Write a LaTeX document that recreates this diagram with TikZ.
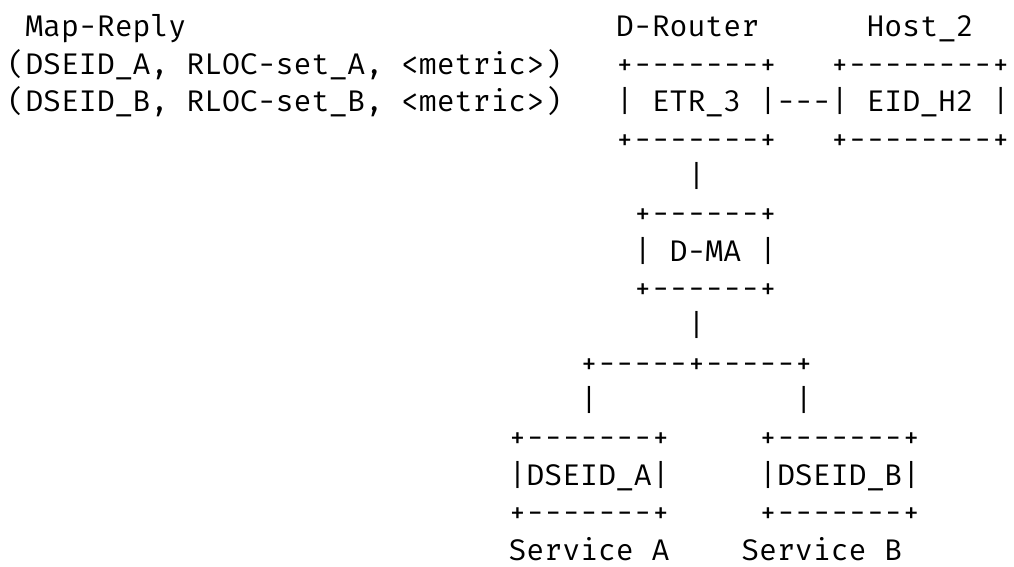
\documentclass[tikz,border=0pt]{standalone}
\usepackage{fontspec}
\setmonofont{Fira Mono}
\usepackage{tikz}

\tikzset{
  txt/.style={anchor=base west, inner sep=0pt},
}

\begin{document}
\begin{tikzpicture}[x=13.425pt, y=-28.02pt, font=\ttfamily\fontsize{22.37}{28}\selectfont]
\useasboundingbox (-0.397,0.01) rectangle (56.25,15.16);
% header and mapping entries
\node[txt] (mapreply) at (1,1) {Map-Reply};
\node[txt] (drouter) at (34,1) {D-Router};
\node[txt] (host) at (48,1) {Host\_2};
\node[txt] (entrya) at (0,2) {(DSEID\_A, RLOC-set\_A, <metric>)};
\node[txt] (entryb) at (0,3) {(DSEID\_B, RLOC-set\_B, <metric>)};
% ETR_3 and EID_H2
\node[txt] (etrtop) at (34,2) {+-------+};
\node[txt] (etr) at (34,3) {| ETR\_3 |};
\node[txt] (etrbot) at (34,4) {+-------+};
\node[txt] (etrlink) at (43,3) {---};
\node[txt] (eidtop) at (46,2) {+--------+};
\node[txt] (eid) at (46,3) {| EID\_H2 |};
\node[txt] (eidbot) at (46,4) {+--------+};
% D-MA
\node[txt] (etrdown) at (38,5) {|};
\node[txt] (dmatop) at (35,6) {+------+};
\node[txt] (dma) at (35,7) {| D-MA |};
\node[txt] (dmabot) at (35,8) {+------+};
\node[txt] (dmadown) at (38,9) {|};
\node[txt] (split) at (32,10) {+-----+-----+};
\node[txt] (splita) at (32,11) {|};
\node[txt] (splitb) at (44,11) {|};
% services
\node[txt] (satop) at (28,12) {+-------+};
\node[txt] (sa) at (28,13) {|DSEID\_A|};
\node[txt] (sabot) at (28,14) {+-------+};
\node[txt] (salabel) at (28,15) {Service A};
\node[txt] (sbtop) at (42,12) {+-------+};
\node[txt] (sb) at (42,13) {|DSEID\_B|};
\node[txt] (sbbot) at (42,14) {+-------+};
\node[txt] (sblabel) at (41,15) {Service B};
\end{tikzpicture}
\end{document}
